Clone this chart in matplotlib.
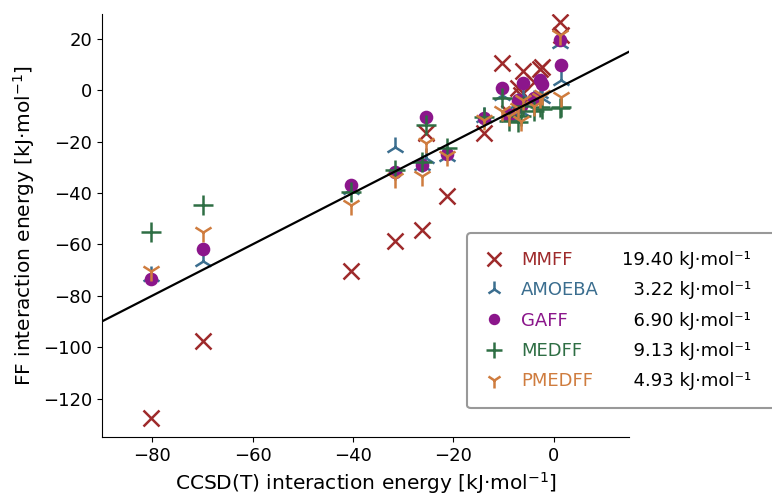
import matplotlib
matplotlib.use('Agg')
import matplotlib.pyplot as plt
from matplotlib.lines import Line2D

# CCSD(T) reference energies and force-field energies (kJ/mol)
ccsd = [-80.2, -69.8, -40.3, -31.7, -26.3, -25.5, -21.2, -14.0, -10.4, -9.0,
        -7.1, -6.1, -6.5, -4.0, -2.8, -2.3, 1.3, 1.4]
mmff = [-127.5, -97.8, -70.5, -58.8, -54.3, -16.8, -41.3, -16.7, 10.5, -9.0,
        0.8, 7.3, -2.0, 3.0, 8.3, 9.2, 26.4, 21.5]
amoeba = [-72.5, -66.5, -38.5, -22.0, -29.0, -26.5, -25.5, -10.5, -2.0, -10.0,
          -5.0, -2.0, -8.0, -4.0, -1.0, -3.0, 18.5, 4.0]
gaff = [-73.5, -61.7, -37.0, -31.8, -29.3, -10.5, -25.0, -11.0, 0.8, -9.5,
        -3.8, 2.7, -6.0, -3.0, 4.0, 2.5, 19.6, 9.8]
medff = [-55.0, -44.7, -39.7, -31.0, -28.0, -13.5, -22.5, -10.3, -3.2, -12.0,
         -12.5, -6.0, -10.0, -8.0, -6.5, -7.5, -7.0, -6.5]
pmedff = [-70.3, -55.0, -44.8, -34.0, -33.5, -20.5, -25.5, -11.5, -8.0, -10.0,
          -7.0, -4.0, -12.0, -6.0, -3.0, -2.0, 21.5, -2.5]

names = ['MMFF', 'AMOEBA', 'GAFF', 'MEDFF', 'PMEDFF']
rmse = ['19.40', '3.22', '6.90', '9.13', '4.93']
series = [mmff, amoeba, gaff, medff, pmedff]
markers = ['x', '2', 'o', '+', '1']
sizes = [12, 14, 8, 14, 14]
colors = ['#9e2a2b', '#3b6e8f', '#8b168b', '#2e6e44', '#cf7c3e']

plt.rcParams['font.size'] = 13

fig = plt.figure(figsize=(7.72, 4.95), dpi=100)
ax = fig.add_axes([0.132, 0.117, 0.683, 0.855])

handles = []
for vals, name, m, ms, c in zip(series, names, markers, sizes, colors):
    h, = ax.plot(ccsd, vals, ls='none', marker=m, ms=ms, mew=1.8,
                 color=c, label=name, zorder=2)
    handles.append(h)

ax.plot([-90, 15], [-90, 15], color='black', lw=1.6, zorder=3)

ax.set_xlim(-90, 15)
ax.set_ylim(-135, 29.7)
ax.set_xticks([-80, -60, -40, -20, 0])
ax.set_yticks([-120, -100, -80, -60, -40, -20, 0, 20])
ax.spines['top'].set_visible(False)
ax.spines['right'].set_visible(False)
ax.set_xlabel('CCSD(T) interaction energy [kJ·mol$^{-1}$]', fontsize=14.5)
ax.set_ylabel('FF interaction energy [kJ·mol$^{-1}$]', fontsize=14.5)

# second legend column holds the RMSE values, right aligned with figure spaces
blank = [Line2D([], [], ls='none') for _ in names]
vals_txt = [r.rjust(5, '\u2007') + ' kJ·mol\u207b\u00b9\u2007' for r in rmse]
leg = fig.legend(handles + blank, names + vals_txt, ncol=2,
                 loc='upper left', bbox_to_anchor=(467 / 772, 1 - 233 / 495),
                 borderaxespad=0, borderpad=1.0, handlelength=1.0,
                 handletextpad=1.0, columnspacing=-0.73, labelspacing=0.68,
                 markerscale=0.8, fontsize=13, framealpha=1,
                 edgecolor='#999999', fancybox=True)
leg.get_frame().set_linewidth(1.5)
for t, c in zip(leg.get_texts()[:5], colors):
    t.set_color(c)

fig.savefig('out.png', dpi=100)
